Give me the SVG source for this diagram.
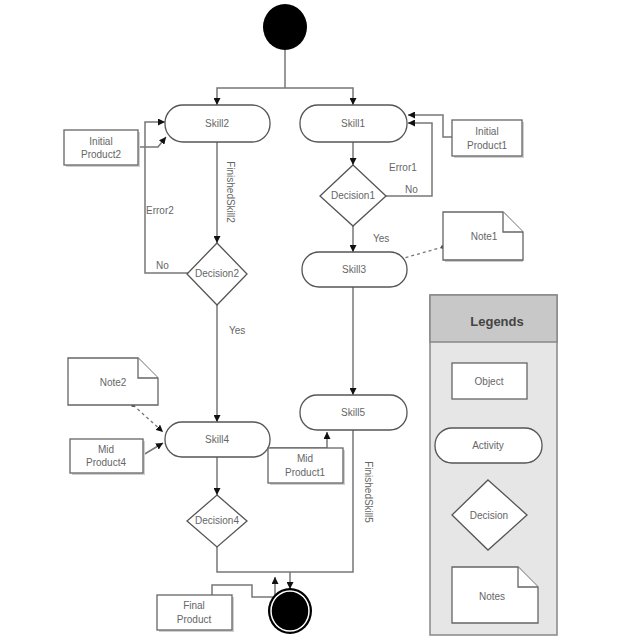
<svg xmlns="http://www.w3.org/2000/svg" width="640" height="640" viewBox="0 0 640 640">
<defs>
<marker id="arr" viewBox="0 0 10 10" refX="10" refY="5" markerWidth="7" markerHeight="7" markerUnits="userSpaceOnUse" orient="auto"><path d="M0,0 L10,5 L0,10 z" fill="#111"/></marker>
<marker id="dot" viewBox="0 0 10 10" refX="5" refY="5" markerWidth="4" markerHeight="4" markerUnits="userSpaceOnUse"><circle cx="5" cy="5" r="5" fill="#444"/></marker>
</defs>
<style>
.act{fill:#fff;stroke:#555;stroke-width:1.3}
.obj{fill:#fff;stroke:#666;stroke-width:1.3}
.sh{fill:#d0d0d0}
.dec{fill:#fff;stroke:#555;stroke-width:1.3}
.t{font-family:"Liberation Sans",Arial,sans-serif;font-size:10px;fill:#666;text-anchor:middle}
.lbl{font-family:"Liberation Sans",Arial,sans-serif;font-size:10px;fill:#666}
.c{fill:none;stroke:#777;stroke-width:1.5}
.cd{fill:none;stroke:#777;stroke-width:1.3;stroke-dasharray:3,3}
</style>
<rect width="640" height="640" fill="#fff"/>
<g id="connectors">
<path class="c" d="M285,50 V88"/>
<path class="c" d="M285,88 H217 V105" marker-end="url(#arr)"/>
<path class="c" d="M285,88 H353 V105" marker-end="url(#arr)"/>
<path class="c" d="M217,142 V243" marker-end="url(#arr)"/>
<path class="c" d="M190,273 H145 V122 H165" marker-end="url(#arr)"/>
<path class="c" d="M138,147 H158 L166,137" marker-end="url(#arr)"/>
<path class="c" d="M217,305 V422" marker-end="url(#arr)"/>
<path class="c" d="M353,142 V165" marker-end="url(#arr)"/>
<path class="c" d="M386,196 H432 V123 H408" marker-end="url(#arr)"/>
<path class="c" d="M452,137 H443 V115 H408" marker-end="url(#arr)"/>
<path class="c" d="M353,226 V252" marker-end="url(#arr)"/>
<path class="cd" d="M443,247 L404,258" marker-start="url(#dot)"/>
<path class="c" d="M353,287 V395" marker-end="url(#arr)"/>
<path class="cd" d="M133,405 L163,432" marker-start="url(#dot)" marker-end="url(#arr)"/>
<path class="c" d="M143,455 L163,443" marker-end="url(#arr)"/>
<path class="c" d="M270,448 H327 V432" marker-end="url(#arr)"/>
<path class="c" d="M217,457 V495" marker-end="url(#arr)"/>
<path class="c" d="M353,430 V572 H217 V547"/>
<path class="c" d="M290,572 V589" marker-end="url(#arr)"/>
<path class="c" d="M212,595 V585 H252 V597 H275 V577" marker-end="url(#arr)"/>
<text class="lbl" x="146" y="214">Error2</text>
<text class="lbl" x="156" y="269">No</text>
<text class="lbl" x="229" y="334">Yes</text>
<text class="lbl" x="389" y="171">Error1</text>
<text class="lbl" x="405" y="193">No</text>
<text class="lbl" x="373" y="242">Yes</text>
<text class="t" transform="translate(227,192) rotate(90)">FinishedSkill2</text>
<text class="t" transform="translate(365,492) rotate(90)">FinishedSkill5</text>
</g>
<g id="start"><ellipse cx="285" cy="27" rx="22" ry="23" fill="#000"/></g>
<g id="skill2"><rect class="act" x="165" y="105" width="105" height="37" rx="18"/><text class="t" x="217" y="127">Skill2</text></g>
<g id="skill1"><rect class="act" x="300" y="105" width="107" height="37" rx="18"/><text class="t" x="353" y="127">Skill1</text></g>
<g id="initialProduct2"><rect class="sh" x="66" y="132" width="74" height="35"/><rect class="obj" x="64" y="130" width="74" height="35"/><text class="t" x="101" y="145">Initial</text><text class="t" x="101" y="158">Product2</text></g>
<g id="initialProduct1"><rect class="sh" x="454" y="122" width="70" height="36"/><rect class="obj" x="452" y="120" width="70" height="36"/><text class="t" x="487" y="135">Initial</text><text class="t" x="487" y="149">Product1</text></g>
<g id="decision2"><path class="dec" d="M217,243 L247,274 L217,305 L187,274 Z"/><text class="t" x="217" y="277">Decision2</text></g>
<g id="decision1"><path class="dec" d="M353,165 L386,196 L353,226 L320,196 Z"/><text class="t" x="353" y="199">Decision1</text></g>
<g id="skill3"><rect class="act" x="302" y="252" width="105" height="35" rx="17"/><text class="t" x="354" y="273">Skill3</text></g>
<g id="note1"><path d="M445,214 H503 L523,234 V262 H445 Z" fill="#ccc"/><path class="obj" d="M443,212 H503 L523,232 V260 H443 Z"/><path class="obj" d="M503,212 V232 H523"/><text class="t" x="484" y="240">Note1</text></g>
<g id="skill5"><rect class="act" x="300" y="395" width="107" height="35" rx="17"/><text class="t" x="353" y="416">Skill5</text></g>
<g id="note2"><path class="obj" d="M68,358 H138 L158,378 V405 H68 Z"/><path class="obj" d="M138,358 V378 H158"/><text class="t" x="113" y="386">Note2</text></g>
<g id="skill4"><rect class="act" x="165" y="422" width="105" height="35" rx="17"/><text class="t" x="217" y="443">Skill4</text></g>
<g id="midProduct4"><rect class="sh" x="72" y="441" width="73" height="34"/><rect class="obj" x="70" y="439" width="73" height="34"/><text class="t" x="106" y="453">Mid</text><text class="t" x="106" y="466">Product4</text></g>
<g id="midProduct1"><rect class="sh" x="270" y="450" width="75" height="35"/><rect class="obj" x="268" y="448" width="75" height="35"/><text class="t" x="305" y="462">Mid</text><text class="t" x="305" y="476">Product1</text></g>
<g id="decision4"><path class="dec" d="M217,495 L247,521 L217,547 L187,521 Z"/><text class="t" x="217" y="524">Decision4</text></g>
<g id="finalProduct"><rect class="sh" x="159" y="597" width="75" height="35"/><rect class="obj" x="157" y="595" width="75" height="35"/><text class="t" x="194" y="609">Final</text><text class="t" x="194" y="623">Product</text></g>
<g id="end"><ellipse cx="290" cy="611" rx="22" ry="23" fill="#000"/><ellipse cx="290" cy="611" rx="19" ry="20" fill="none" stroke="#fff" stroke-width="1.5"/></g>
<g id="legend">
<rect x="430" y="295" width="127" height="340" fill="#e6e6e6" stroke="#888" stroke-width="1.5"/>
<rect x="430" y="295" width="127" height="47" fill="#c8c8c8" stroke="#888" stroke-width="1.5"/>
<text x="497" y="326" font-family="'Liberation Sans',Arial,sans-serif" font-size="13" font-weight="bold" fill="#444" text-anchor="middle">Legends</text>
<rect class="obj" x="452" y="363" width="75" height="36"/><text class="t" x="489" y="385">Object</text>
<rect class="act" x="435" y="428" width="107" height="35" rx="17"/><text class="t" x="488" y="449">Activity</text>
<path class="dec" d="M488,480 L527,515 L488,550 L452,515 Z"/><text class="t" x="489" y="519">Decision</text>
<path class="obj" d="M452,567 H518 L538,587 V623 H452 Z"/><path class="obj" d="M518,567 V587 H538"/><text class="t" x="492" y="600">Notes</text>
</g>
</svg>
